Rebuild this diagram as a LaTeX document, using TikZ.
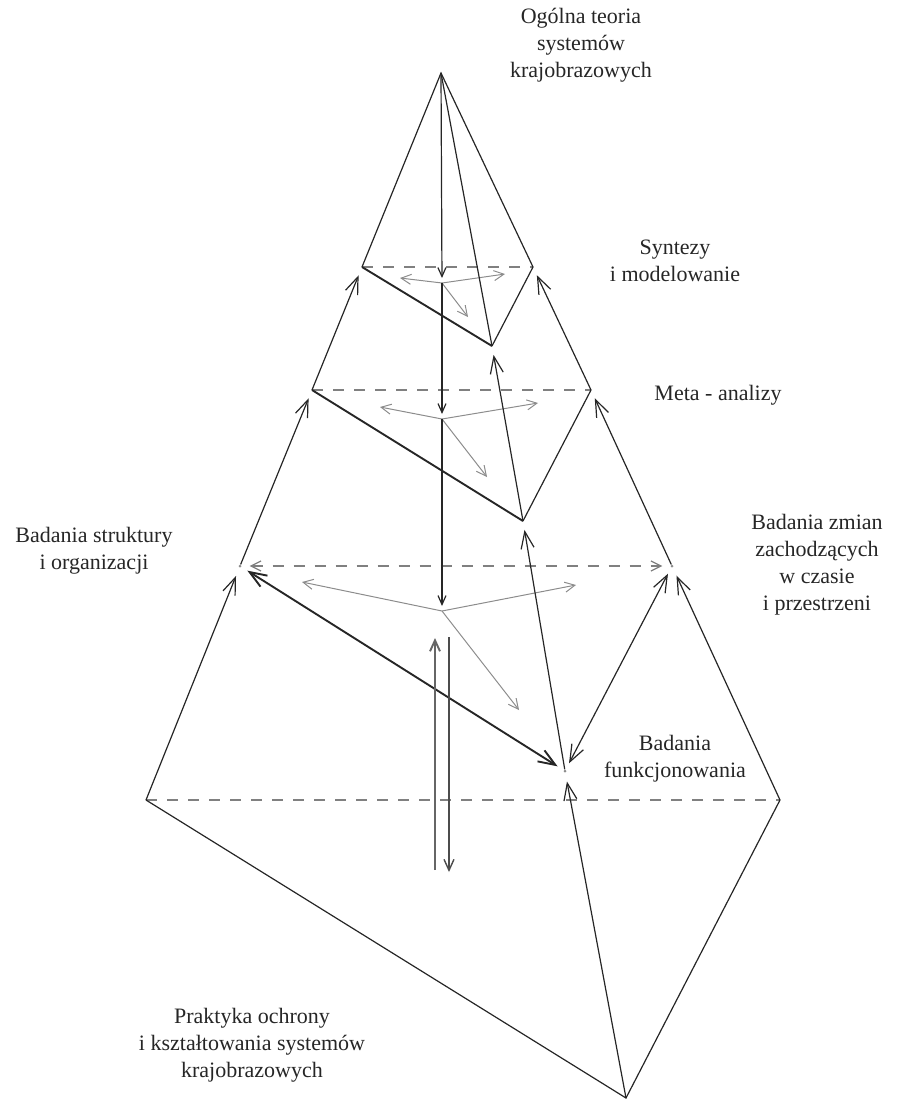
\documentclass[tikz,border=0pt]{standalone}
\usepackage{fontspec}
\setmainfont{Liberation Serif}
\usetikzlibrary{arrows.meta}
\begin{document}
\begin{tikzpicture}[x=1pt,y=-1pt,
  edge/.style={line width=1.2pt, black!85},
  heavy/.style={line width=1.9pt, black!85},
  back/.style={dash pattern=on 11pt off 10pt, line width=1.2pt, black!50},
  fan/.style={line width=1pt, black!45, -{Straight Barb[length=10pt,width=10pt]}},
  rise/.style={edge, -{Straight Barb[length=17pt,width=13pt]}, shorten >=9pt},
  both/.style={heavy, {Straight Barb[length=17pt,width=13pt]}-{Straight Barb[length=17pt,width=13pt]}, shorten >=7pt, shorten <=7pt},
  downv/.style={edge, -{Straight Barb[length=9pt,width=8pt]}, shorten >=5pt},
  lbl/.style={align=center, font=\fontsize{22}{27}\selectfont, inner sep=0pt, text=black!85},
  pt/.style={circle, fill=black!45, inner sep=0pt, minimum size=3pt}
]
\useasboundingbox (0,0) rectangle (897,1104);

% vertices
\coordinate (A) at (441,73);
\coordinate (L1l) at (362,267);
\coordinate (L1r) at (533,267);
\coordinate (L1f) at (492,346);
\coordinate (L2l) at (312,390);
\coordinate (L2r) at (591,390);
\coordinate (L2f) at (523,521);
\node[pt] (L3l) at (240,566) {};
\node[pt] (L3r) at (672,566) {};
\node[pt] (L3f) at (565,771) {};
\coordinate (L4l) at (146,800);
\coordinate (L4r) at (780,800);
\coordinate (B) at (626,1098);
% centres
\coordinate (c1) at (442,283);
\coordinate (c2) at (442,419);
\coordinate (c3) at (442,611);
% fan tips
\coordinate (f1a) at (400,278);
\coordinate (f1b) at (505,274);
\coordinate (f1c) at (468,317);
\coordinate (f2a) at (380,407);
\coordinate (f2b) at (538,403);
\coordinate (f2c) at (487,477);
\coordinate (f3a) at (302,582);
\coordinate (f3b) at (576,585);
\coordinate (f3c) at (519,710);
% double vertical
\coordinate (V1b) at (435,870);
\coordinate (V1t) at (435,638);
\coordinate (V2t) at (449,637);
\coordinate (V2b) at (449,872);

% back (dashed) edges
\draw[back] (L1l) -- (L1r);
\draw[back] (L2l) -- (L2r);
\draw[back, {Straight Barb[length=10pt,width=10pt]}-{Straight Barb[length=10pt,width=10pt]}, shorten <=8pt, shorten >=8pt] (L3l) -- (L3r);
\draw[back] (L4l) -- (L4r);

% fans
\draw[fan] (c1) -- (f1a);
\draw[fan] (c1) -- (f1b);
\draw[fan] (c1) -- (f1c);
\draw[fan] (c2) -- (f2a);
\draw[fan] (c2) -- (f2b);
\draw[fan] (c2) -- (f2c);
\draw[fan] (c3) -- (f3a);
\draw[fan] (c3) -- (f3b);
\draw[fan] (c3) -- (f3c);

% top pyramid
\draw[edge] (L1l) -- (A) -- (L1r) -- (L1f);
\draw[edge] (A) -- (L1f);
\draw[heavy] (L1l) -- (L1f);
% level 2
\draw[heavy] (L2l) -- (L2f);
\draw[edge] (L2f) -- (L2r);
\draw[rise] (L2l) -- (L1l);
\draw[rise] (L2r) -- (L1r);
\draw[rise] (L2f) -- (L1f);
% level 3
\draw[rise] (L3l) -- (L2l);
\draw[rise] (L3r) -- (L2r);
\draw[rise] (L3f) -- (L2f);
\draw[both] (L3l) -- (L3f);
\draw[both, line width=1.2pt] (L3r) -- (L3f);
% level 4
\draw[edge] (L4l) -- (B) -- (L4r);
\draw[rise] (L4l) -- (L3l);
\draw[rise] (L4r) -- (L3r);
\draw[rise] (B) -- (L3f);

% central vertical
\draw[downv] (A) -- (c1);
\draw[downv] (c1) -- (c2);
\draw[downv] (c2) -- (c3);

% double vertical arrows
\draw[line width=1.9pt, black!60, -{Straight Barb[length=11pt,width=10pt]}] (V1b) -- (V1t);
\draw[line width=1.4pt, black!70, -{Straight Barb[length=11pt,width=10pt]}] (V2t) -- (V2b);

% labels
\node[lbl] (t0) at (581,45) {Ogólna teoria\\systemów\\krajobrazowych};
\node[lbl] (t1) at (675,261) {Syntezy\\i modelowanie};
\node[lbl] (t2) at (718,395) {Meta - analizy};
\node[lbl] (t3) at (94,551) {Badania struktury\\i organizacji};
\node[lbl] (t4) at (817,565) {Badania zmian\\zachodzących\\w czasie\\i przestrzeni};
\node[lbl] (t5) at (675,759) {Badania\\funkcjonowania};
\node[lbl] (t6) at (252,1045) {Praktyka ochrony\\i kształtowania systemów\\krajobrazowych};
\end{tikzpicture}
\end{document}
